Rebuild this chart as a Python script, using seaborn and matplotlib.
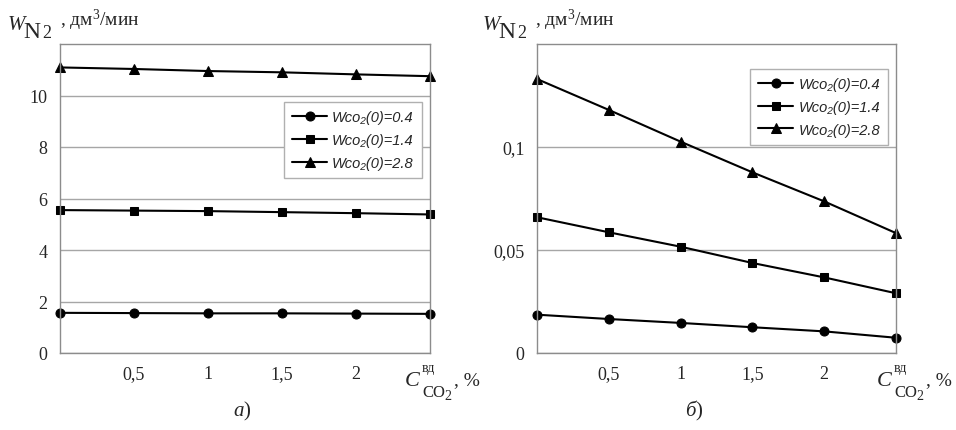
import matplotlib
matplotlib.use("Agg")
import matplotlib.pyplot as plt
import matplotlib.ticker as mticker
import pandas as pd
import seaborn as sns

# --- Data ---
conc = [0, 0.5, 1, 1.5, 2, 2.5]
x_tick_labels = ["", "0,5", "1", "1,5", "2", ""]
series_names = ["Wco₂(0)=0.4", "Wco₂(0)=1.4", "Wco₂(0)=2.8"]

# panel a)
a_04 = [1.56, 1.55, 1.54, 1.54, 1.53, 1.52]
a_14 = [5.55, 5.53, 5.51, 5.47, 5.43, 5.38]
a_28 = [11.09, 11.03, 10.95, 10.90, 10.82, 10.75]
a_yticks = [0, 2, 4, 6, 8, 10]
a_ylabels = ["0", "2", "4", "6", "8", "10"]

# panel б)
b_04 = [0.0186, 0.0165, 0.0146, 0.0125, 0.0105, 0.0074]
b_14 = [0.0659, 0.0586, 0.0516, 0.0437, 0.0367, 0.0290]
b_28 = [0.1330, 0.1180, 0.1026, 0.0877, 0.0736, 0.0582]
b_yticks = [0, 0.05, 0.1]
b_ylabels = ["0", "0,05", "0,1"]

sns.set_theme(style="white")
plt.rcParams["font.family"] = ["Liberation Serif", "DejaVu Serif"]
plt.rcParams["mathtext.fontset"] = "custom"
plt.rcParams["mathtext.rm"] = "Liberation Serif"
plt.rcParams["mathtext.it"] = "Liberation Serif:italic"
plt.rcParams["mathtext.bf"] = "Liberation Serif:bold"

markers = ["o", "s", "^"]
msizes = [6.5, 6, 7]
GRAY = "#8c8c8c"
W, H = 956, 431


def make_df(vals):
    rows = []
    for name, ys in zip(series_names, vals):
        for x, y in zip(conc, ys):
            rows.append({"x": x, "y": y, "series": name})
    return pd.DataFrame(rows)


def ptext(fig, x, y, s, size, style="normal"):
    # x, y in pixels from top-left, y is the baseline
    fig.text(x / W, 1 - y / H, s, fontsize=size, style=style,
             ha="left", va="baseline")


def draw_panel(ax, vals, ylim, yticks, ylabels, leg_anchor):
    df = make_df(vals)
    for name, m, ms in zip(series_names, markers, msizes):
        sns.lineplot(data=df[df.series == name], x="x", y="y", ax=ax,
                     color="black", marker=m, markersize=ms, lw=1.5,
                     markeredgecolor="black", label=name, clip_on=False)

    ax.set_xlim(0, 2.5)
    ax.set_ylim(*ylim)
    ax.xaxis.set_major_locator(mticker.FixedLocator(conc))
    ax.set_xticklabels(x_tick_labels)
    ax.xaxis.set_minor_locator(mticker.FixedLocator([0, 2.5]))
    ax.tick_params(axis="x", which="major", length=0, pad=9, labelsize=13)
    ax.tick_params(axis="x", which="minor", length=4, color=GRAY, width=1)
    ax.set_yticks(yticks)
    ax.set_yticklabels(ylabels)
    ax.tick_params(axis="y", length=0, pad=9, labelsize=13)
    ax.set_xlabel("")
    ax.set_ylabel("")

    ax.yaxis.grid(True, color="#a6a6a6", lw=1)
    ax.xaxis.grid(False)
    for sp in ax.spines.values():
        sp.set_visible(True)
        sp.set_color(GRAY)
        sp.set_linewidth(1)

    leg = ax.legend(loc="upper right", bbox_to_anchor=leg_anchor,
                    borderaxespad=0, fancybox=False, framealpha=1,
                    edgecolor="#b0b0b0", handlelength=2.4, handletextpad=0.35,
                    labelspacing=0.6, borderpad=0.55,
                    prop={"family": ["Liberation Sans", "DejaVu Sans"],
                          "style": "italic", "size": 10.5})
    leg.get_frame().set_linewidth(1)


fig = plt.figure(figsize=(W / 100, H / 100), dpi=100)
ax_a = fig.add_axes([60 / W, 77 / H, 370 / W, 309 / H])
ax_b = fig.add_axes([537 / W, 77 / H, 359 / W, 309 / H])

draw_panel(ax_a, [a_04, a_14, a_28], (0, 12), a_yticks, a_ylabels, (0.978, 0.812))
draw_panel(ax_b, [b_04, b_14, b_28], (0, 0.15), b_yticks, b_ylabels, (0.978, 0.919))

# y-axis titles (W_N2, дм3/мин) above each panel
for x0 in (8, 483):
    ptext(fig, x0, 30, "W", 15, "italic")
    ptext(fig, x0 + 15, 38, "N", 17)
    ptext(fig, x0 + 34, 38, "2", 13)
    ptext(fig, x0 + 52, 26, ", дм$^3$/мин", 14)

# x-axis titles (C_CO2^вд, %) at the right end of each axis
for x0 in (405, 877):
    ptext(fig, x0, 386, "C", 16, "italic")
    ptext(fig, x0 + 17, 372, "вд", 10)
    ptext(fig, x0 + 17, 397, "CO", 12)
    ptext(fig, x0 + 39, 400, "2", 10)
    ptext(fig, x0 + 49, 385, ", %", 14)

# panel captions
ptext(fig, 233, 416, "$a$)", 15)
ptext(fig, 685, 416, "$б$)", 15)

fig.savefig("out.png", dpi=100)
